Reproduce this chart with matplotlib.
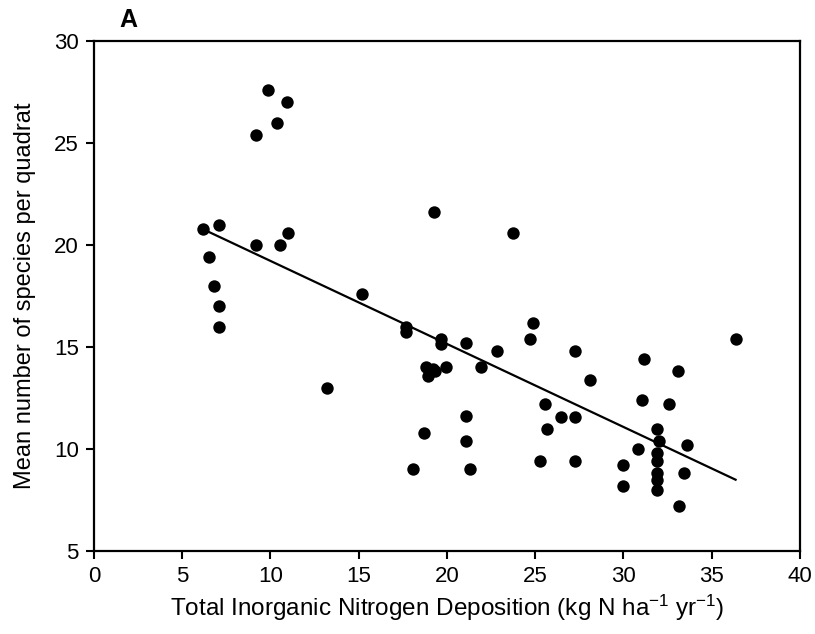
import matplotlib
matplotlib.use("Agg")
import matplotlib.pyplot as plt
import numpy as np

plt.rcParams['font.family'] = ['Liberation Sans', 'DejaVu Sans']
plt.rcParams['mathtext.default'] = 'regular'

# Nitrogen deposition (kg N ha-1 yr-1)
deposition = [9.84, 10.95, 10.39, 9.18, 6.19, 7.08, 9.18, 10.54, 10.97, 6.52,
              6.78, 7.08, 7.08, 19.25, 15.2, 17.7, 17.7, 19.66, 19.66, 21.06,
              22.85, 18.8, 19.2, 18.95, 19.3, 19.94, 21.95, 13.2, 21.06, 18.68,
              21.06, 18.1, 21.3, 23.76, 24.85, 24.7, 27.25, 28.08, 31.17, 33.1,
              25.55, 26.44, 27.27, 25.65, 31.05, 32.6, 31.88, 32.0, 30.8, 31.88,
              31.88, 31.88, 31.88, 31.88, 25.29, 27.25, 30.0, 30.0, 33.15, 36.35,
              33.57, 33.45]
# Mean number of species per quadrat
species = [27.6, 27.0, 26.0, 25.4, 20.8, 21.0, 20.0, 20.0, 20.6, 19.4,
           18.0, 17.0, 16.0, 21.6, 17.6, 16.0, 15.75, 15.38, 15.15, 15.2,
           14.8, 14.0, 13.9, 13.6, 13.8, 14.0, 14.0, 13.0, 11.6, 10.8,
           10.4, 9.0, 9.0, 20.6, 16.2, 15.4, 14.8, 13.4, 14.4, 13.8,
           12.2, 11.55, 11.55, 11.0, 12.4, 12.2, 11.0, 10.4, 10.0, 9.79,
           9.4, 8.81, 8.5, 8.0, 9.4, 9.4, 9.2, 8.2, 7.2, 15.4,
           10.2, 8.81]

# Regression line
fit_slope = -0.407
fit_intercept = 23.29

xticks = [0, 5, 10, 15, 20, 25, 30, 35, 40]
yticks = [5, 10, 15, 20, 25, 30]

fig = plt.figure(figsize=(8.15, 6.34), dpi=100)
ax = fig.add_axes([0.1153, 0.1309, 0.8663, 0.8044])

ax.scatter(deposition, species, s=80, color='black', zorder=3, linewidths=0)
xl = np.array([min(deposition), max(deposition)])
ax.plot(xl, fit_intercept + fit_slope * xl, color='black', lw=1.6, zorder=2)

ax.set_xlim(0, 40)
ax.set_ylim(5, 30)
ax.set_xticks(xticks)
ax.set_yticks(yticks)
ax.tick_params(direction='out', length=6, width=1.5, labelsize=16, pad=5)
for s in ax.spines.values():
    s.set_linewidth(1.6)

ax.set_xlabel('Total Inorganic Nitrogen Deposition (kg N ha$^{-1}$ yr$^{-1}$)',
              fontsize=17.5, labelpad=4)
ax.set_ylabel('Mean number of species per quadrat', fontsize=17, labelpad=13)
fig.text(0.147, 0.968, 'A', fontsize=18, fontweight='bold', ha='left', va='center')

fig.savefig('out.png', dpi=100)
